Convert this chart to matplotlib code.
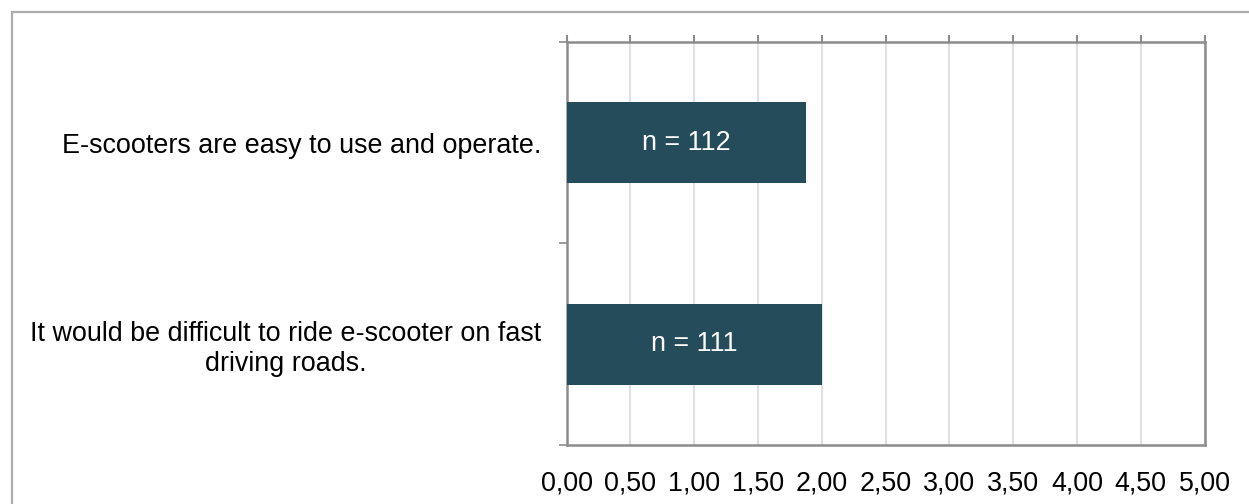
import numpy as np
import matplotlib.pyplot as plt
from matplotlib.patches import Rectangle

plt.rcParams['font.family'] = ['Liberation Sans', 'DejaVu Sans']

statements = ['E-scooters are easy to use and operate.',
              'It would be difficult to ride e-scooter on fast\ndriving roads.']
means = [1.88, 2.00]
counts = [112, 111]
xticks = np.arange(0, 5.01, 0.5)
xtick_labels = ['0,00', '0,50', '1,00', '1,50', '2,00', '2,50', '3,00', '3,50', '4,00', '4,50', '5,00']

BAR_COLOR = '#244c5a'
SPINE = '#8c8c8c'
FS = 19.4

fig = plt.figure(figsize=(12.49, 5.04), dpi=100)
ax = fig.add_axes([566.5 / 1249, 1 - 445 / 504, (1204.5 - 566.5) / 1249, (445 - 42) / 504])

# outer border (only top/left visible in the crop)
fig.patches.append(Rectangle((12 / 1249, -0.1), 1.2, 1 - 12 / 504 + 0.1, transform=fig.transFigure,
                             fill=False, edgecolor='#ababab', linewidth=1.6))

y = np.arange(len(statements))
bars = ax.barh(y, means, height=0.4, color=BAR_COLOR, zorder=3)
for b, n in zip(bars, counts):
    ax.text(b.get_width() / 2, b.get_y() + b.get_height() / 2, 'n = ' + str(n),
            color='white', fontsize=FS, ha='center', va='center', zorder=4)

ax.set_xlim(0, 5)
ax.set_ylim(1.5, -0.5)
ax.set_xticks(xticks)
ax.set_xticklabels(xtick_labels, fontsize=FS)
ax.set_yticks(y)
ax.set_yticklabels(statements, fontsize=FS)
for t in ax.get_yticklabels():
    t.set_multialignment('center')
ax.set_yticks([-0.5, 0.5, 1.5], minor=True)

ax.tick_params(axis='x', which='major', top=True, bottom=False, labelbottom=True,
               direction='out', length=5, width=1.5, color=SPINE, pad=13)
ax.tick_params(axis='y', which='major', length=0, pad=18)
ax.tick_params(axis='y', which='minor', left=True, direction='out', length=6, width=1.2, color=SPINE)

ax.grid(axis='x', color='#e0e0e0', linewidth=1.5, zorder=0)
for s in ax.spines.values():
    s.set_color(SPINE)
    s.set_linewidth(1.8)

plt.savefig('out.png', dpi=100)
